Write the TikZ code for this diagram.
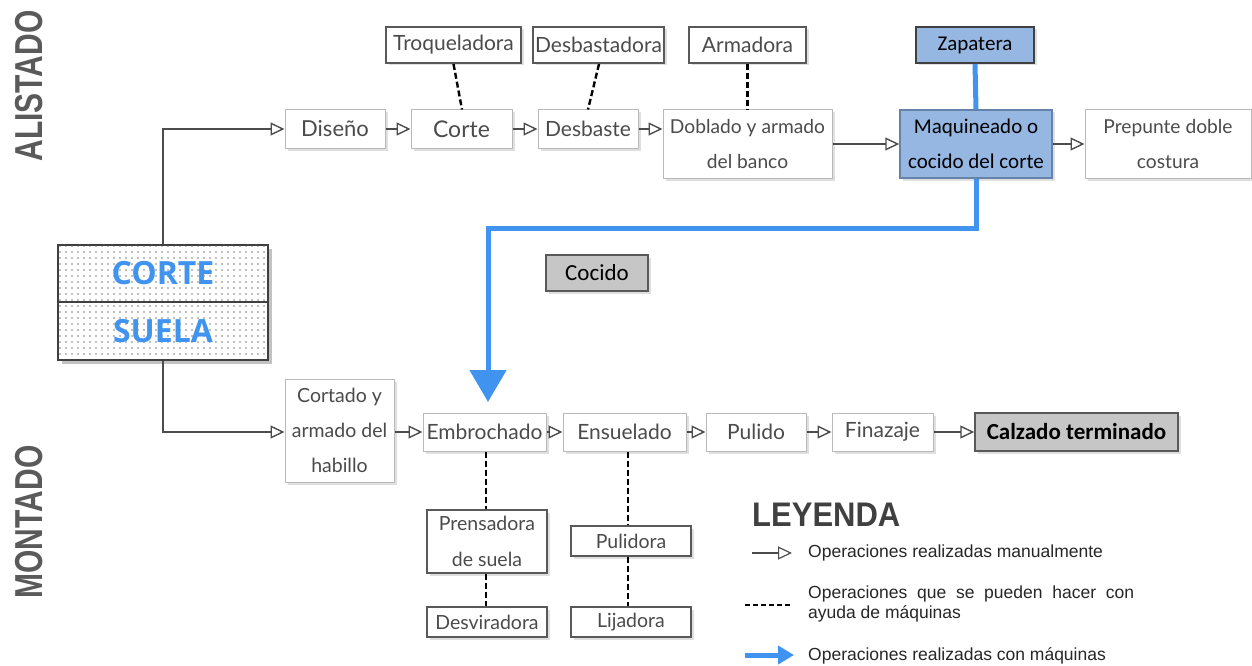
\documentclass[tikz,border=0pt]{standalone}
\usepackage{fontspec}
\setmainfont{Lato}
\newfontfamily\calfont{Carlito}
\newfontfamily\arsfont{Liberation Sans}
\newfontfamily\opsfont{Open Sans}
\usetikzlibrary{arrows.meta,shadows,patterns.meta,calc}
\definecolor{lineblue}{RGB}{64,148,240}
\definecolor{boxblue}{RGB}{149,183,226}
\definecolor{boxblueb}{RGB}{100,130,170}
\definecolor{txtgray}{RGB}{75,75,75}
\definecolor{sidegray}{RGB}{90,90,90}
\tikzset{
  x=1pt, y=-1pt,
  shad/.style={drop shadow={opacity=0.25, shadow xshift=2.5pt, shadow yshift=-2.5pt}},
  proc/.style={draw=gray!55, line width=1pt, fill=white, minimum height=38pt, text=txtgray,
     font=\fontsize{21}{35}\selectfont, align=center, inner sep=0pt, shad},
  mach/.style={draw=gray!70!black, line width=2pt, fill=white, minimum height=36pt, text=txtgray,
     font=\fontsize{21}{36}\selectfont, align=center, inner sep=0pt, shad},
  bluebox/.style={draw=boxblueb, line width=1.5pt, fill=boxblue, text=black, align=center,
     inner sep=0pt, font=\calfont\fontsize{21}{35}\selectfont, shad},
  graybox/.style={draw=gray!70!black, line width=1.5pt, fill=gray!45, text=black, align=center,
     inner sep=0pt, shad},
  manual/.style={draw=black!70, line width=1.4pt, -{Triangle[open,length=14pt,width=13pt]}},
  helper/.style={draw=black, line width=2.4pt, dash pattern=on 6pt off 3pt},
  machine/.style={draw=lineblue, line width=5pt},
  side/.style={text=sidegray, font=\arsfont\bfseries\fontsize{30}{30}\selectfont, rotate=90, inner sep=0pt},
  csbox/.style={draw=black!75, line width=1.2pt, preaction={fill=white},
     pattern={Dots[distance=6pt, radius=0.8pt]}, pattern color=gray,
     minimum width=210pt, text=lineblue, font=\opsfont\bfseries\fontsize{32}{34}\selectfont, inner sep=0pt},
  legtext/.style={text=black!85, font=\arsfont\fontsize{17.5}{20}\selectfont, anchor=west, align=left, inner sep=0pt}
}
\begin{document}
\begin{tikzpicture}
\useasboundingbox (0,0) rectangle (1252,666);
% side labels
\node[side] (alis) at (29,86) {\scalebox{1}[1.3]{ALISTADO}};
\node[side] (mont) at (29,522) {\scalebox{1}[1.3]{MONTADO}};
% corte / suela
\fill[black!40, opacity=0.6] (62,249) rectangle (272,364);
\node[csbox, minimum height=57pt] (corte) at (163,273.5) {CORTE};
\node[csbox, minimum height=58pt] (suela) at (163,331) {SUELA};
% top row machines
\node[mach, minimum width=135pt] (troq) at (453.5,45) {Troqueladora};
\node[mach, minimum width=131pt] (desbm) at (598.5,45) {Desbastadora};
\node[mach, minimum width=117pt] (arm) at (747.5,45) {Armadora};
\node[bluebox, minimum width=118pt, minimum height=36pt, line width=2pt, draw=gray!50!black] (zap) at (975,45) {Zapatera};
% top row processes
\node[proc, minimum width=100pt, font=\fontsize{22}{35}\selectfont] (dis) at (335,129) {Diseño};
\node[proc, minimum width=101pt, font=\fontsize{23}{35}\selectfont] (cor) at (461.5,129) {Corte};
\node[proc, minimum width=100pt] (desb) at (588,129) {Desbaste};
\node[proc, minimum width=169pt, minimum height=68pt, font=\fontsize{19.2}{35}\selectfont] (dob) at (747.5,144) {Doblado y armado\\del banco};
\node[bluebox, minimum width=152pt, minimum height=68pt] (maq) at (976,144) {Maquineado o\\cocido del corte};
\node[proc, minimum width=166pt, minimum height=68pt, font=\fontsize{19.2}{35}\selectfont] (prep) at (1168,144) {Prepunte doble\\costura};
% cocido
\node[graybox, minimum width=102pt, minimum height=36pt, font=\calfont\fontsize{23}{24}\selectfont] (coc) at (597,273) {Cocido};
% bottom row
\node[proc, minimum width=109pt, minimum height=103pt, font=\fontsize{19.5}{35}\selectfont] (cta) at (339.5,430.5) {Cortado y\\armado del\\habillo};
\node[proc, minimum width=123pt] (emb) at (484.5,432) {Embrochado};
\node[proc, minimum width=123pt] (ens) at (624.5,432) {Ensuelado};
\node[proc, minimum width=100pt] (pul) at (756,432) {Pulido};
\node[proc, minimum width=101pt] (fin) at (882.5,432) {Finazaje};
\node[graybox, minimum width=203pt, minimum height=38pt, font=\calfont\bfseries\fontsize{23}{24}\selectfont] (calz) at (1076.5,432) {Calzado terminado};
% bottom machines
\node[mach, minimum width=120pt, minimum height=63pt, font=\fontsize{19.5}{36}\selectfont] (prens) at (487,541.5) {Prensadora\\de suela};
\node[mach, minimum width=120pt, minimum height=30pt, font=\fontsize{19.5}{20}\selectfont] (desv) at (487,622) {Desviradora};
\node[mach, minimum width=120pt, minimum height=30pt, font=\fontsize{19.5}{20}\selectfont] (puld) at (631,541) {Pulidora};
\node[mach, minimum width=120pt, minimum height=30pt, font=\fontsize{19.5}{20}\selectfont] (lij) at (631,622) {Lijadora};
% manual arrows
\draw[manual] (corte.north) |- (dis.west);
\draw[manual] (dis) -- (cor);
\draw[manual] (cor) -- (desb);
\draw[manual] (desb.east) -- (desb.east -| dob.west);
\draw[manual] (dob) -- (maq);
\draw[manual] (maq) -- (prep);
\draw[manual] (suela.south) |- (cta.west |- emb.west);
\draw[manual] (cta.east |- emb.west) -- (emb.west);
\draw[manual] (emb) -- (ens);
\draw[manual] (ens) -- (pul);
\draw[manual] (pul) -- (fin);
\draw[manual] (fin) -- (calz);
% dashed helpers
\draw[helper] ($(troq.south)+(0,0)$) -- ($(cor.north)+(0.5,0)$);
\draw[helper] ($(desbm.south)+(0.5,0)$) -- ($(desb.north)+(0,0)$);
\draw[helper] (arm.south) -- (arm.south |- dob.north);
\draw[helper] ($(emb.south)+(1.5,0)$) -- ($(prens.north)+(-1,0)$);
\draw[helper] ($(prens.south)+(-1,0)$) -- ($(desv.north)+(-1,0)$);
\draw[helper] ($(ens.south)+(3.5,0)$) -- ($(puld.north)+(-3,0)$);
\draw[helper] ($(puld.south)+(-3,0)$) -- ($(lij.north)+(-3,0)$);
% machine lines
\draw[machine] (zap.south) -- (maq.north);
\coordinate (b1) at (976,228);
\coordinate (b2) at (488,228);
\coordinate (b3) at (488,402);
\draw[machine, line cap=butt, -{Triangle[length=32pt,width=36pt]}] (maq.south) |- (b2) -- (b3);
% legend
\node[text=black!75, font=\arsfont\bfseries\fontsize{31}{32}\selectfont, anchor=west, inner sep=0pt] (ley) at (752,515) {\scalebox{1}[1.1]{LEYENDA}};
\coordinate (l1a) at (752,553);
\coordinate (l1b) at (792,553);
\draw[manual, line width=1.2pt] (l1a) -- (l1b);
\node[legtext] (t1) at (808,553) {Operaciones realizadas manualmente};
\coordinate (l2a) at (745,605);
\coordinate (l2b) at (790,605);
\draw[helper, line width=2pt, dash pattern=on 5pt off 3pt] (l2a) -- (l2b);
\node[legtext] (t2) at (808,604) {Operaciones\ \ que\ \ se\ \ pueden\ \ hacer\ \ con\\ayuda de máquinas};
\coordinate (l3a) at (745,655);
\coordinate (l3b) at (794,655);
\draw[machine, -{Triangle[length=16pt,width=18pt]}] (l3a) -- (l3b);
\node[legtext] (t3) at (808,656) {Operaciones realizadas con máquinas};
\end{tikzpicture}
\end{document}
